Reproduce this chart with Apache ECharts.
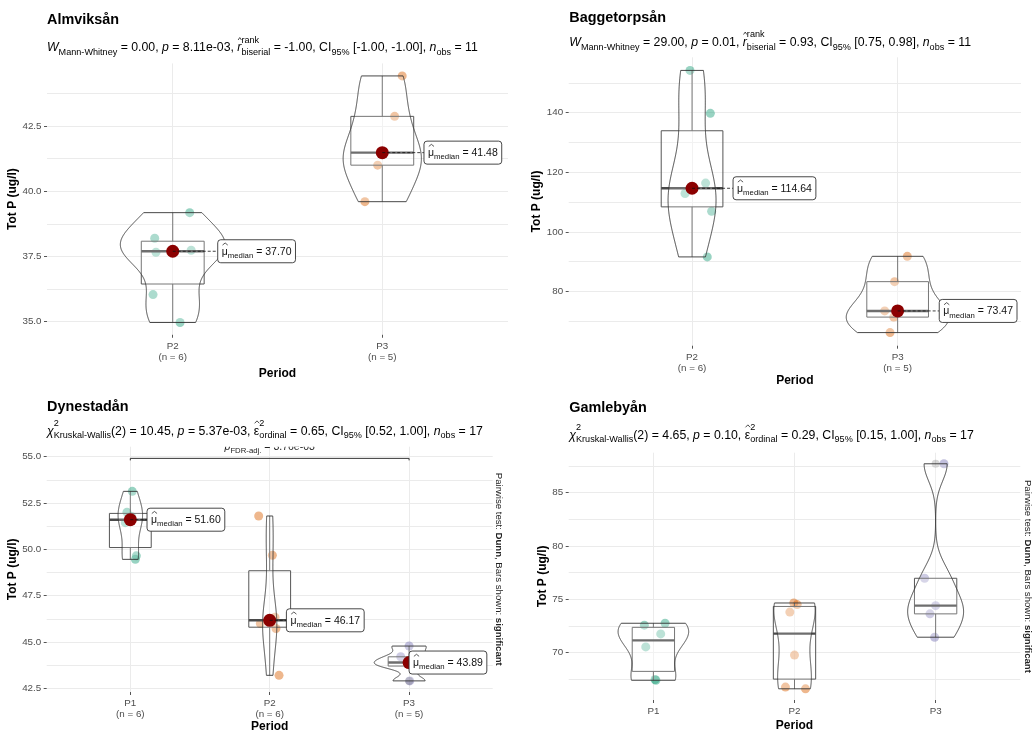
<!DOCTYPE html>
<html>
<head>
<meta charset="utf-8">
<script src="https://cdn.jsdelivr.net/npm/echarts@6/dist/echarts.min.js"></script>
<style>
  html, body { margin: 0; background: #fff; }
  #chart { width: 1034px; height: 735px; }
</style>
</head>
<body>
<div id="chart"></div>
<script>
var FONT = '"Liberation Sans", Arial, sans-serif';
var PALETTE = ['#1B9E77', '#D95F02', '#7570B3'];

// Almviksån
var almCats = ['P2', 'P3'];
var almP2 = [39.18, 38.20, 37.66, 37.74, 36.04, 34.97];
var almP3 = [44.42, 42.87, 41.00, 39.60, 41.48];
var almJitter = [[0.081, -0.086, -0.080, 0.088, -0.094, 0.035], [0.095, 0.059, -0.022, -0.083, 0.0]];
var almTicks = [35, 37.5, 40, 42.5];
var almMinor = [36.25, 38.75, 41.25, 43.75];

// Baggetorpsån
var bagCats = ['P2', 'P3'];
var bagP2 = [154.2, 139.8, 116.38, 112.9, 106.9, 91.6];
var bagP3 = [91.8, 83.3, 73.47, 71.4, 66.2];
var bagJitter = [[-0.01, 0.089, 0.066, -0.034, 0.095, 0.074], [0.047, -0.015, -0.063, -0.019, -0.037]];
var bagTicks = [80, 100, 120, 140];
var bagMinor = [70, 90, 110, 130, 150];

// Dynestadån
var dynCats = ['P1', 'P2', 'P3'];
var dynP1 = [53.13, 52.00, 51.44, 51.76, 49.65, 49.46];
var dynP2 = [51.80, 49.68, 46.34, 46.00, 45.73, 43.20];
var dynP3 = [44.78, 44.20, 43.89, 43.70, 42.90];
var dynJitter = [[0.014, -0.024, -0.036, 0.01, 0.043, 0.036], [-0.079, 0.019, 0.038, -0.067, 0.045, 0.067], [0.0, -0.06, 0.0, 0.02, 0.005]];
var dynTicks = [42.5, 45, 47.5, 50, 52.5, 55];
var dynMinor = [43.75, 46.25, 48.75, 51.25, 53.75];
var dynSigPair = [1, 3];
var dynSigY = 54.91;
var dynSigP = '3.76e-03';

// Gamlebyån
var gamCats = ['P1', 'P2', 'P3'];
var gamP1 = [72.57, 72.75, 71.75, 70.53, 67.47, 67.40];
var gamP2 = [74.65, 74.50, 73.80, 69.76, 66.76, 66.60];
var gamP3 = [87.71, 76.97, 74.40, 73.63, 71.44];
var gamJitter = [[-0.064, 0.083, 0.052, -0.054, 0.012, 0.018], [-0.005, 0.019, -0.033, 0.0, -0.064, 0.078], [0.059, -0.078, 0.0, -0.04, -0.007]];
var gamTicks = [70, 75, 80, 85];
var gamMinor = [67.5, 72.5, 77.5, 82.5, 87.5];

function mwSub(w, p, r, ci, n) {
  return [{t: 'W', it: 1}, {sub: 'Mann-Whitney'}, {t: ' = ' + w + ', '}, {t: 'p', it: 1}, {t: ' = ' + p + ', '},
    {t: 'r', it: 1, hat: 1}, {sup: 'rank', sub: 'biserial'}, {t: ' = ' + r + ', CI'}, {sub: '95%'},
    {t: ' ' + ci + ', '}, {t: 'n', it: 1}, {sub: 'obs'}, {t: ' = ' + n}];
}
function kwSub(chi, p, e, ci, n) {
  return [{t: 'χ', it: 1}, {sup: '2', sub: 'Kruskal-Wallis'}, {t: '(2) = ' + chi + ', '}, {t: 'p', it: 1}, {t: ' = ' + p + ', '},
    {t: 'ε', hat: 1}, {sup: '2', sub: 'ordinal'}, {t: ' = ' + e + ', CI'}, {sub: '95%'},
    {t: ' ' + ci + ', '}, {t: 'n', it: 1}, {sub: 'obs'}, {t: ' = ' + n}];
}

var panels = [
  {name: 'Almviksån', cats: almCats, groups: [almP2, almP3], jitter: almJitter, ticks: almTicks, minor: almMinor, dec: 1,
   sub: mwSub('0.00', '8.11e-03', '-1.00', '[-1.00, -1.00]', 11), showN: true, showMedian: true,
   rect: [47, 63.4, 461, 271.35], yRange: [34.5, 44.9], titleBase: 24, subBase: 51.7, labelDx: [45, 41.7], xGap: 33, yGap: 25},
  {name: 'Baggetorpsån', cats: bagCats, groups: [bagP2, bagP3], jitter: bagJitter, ticks: bagTicks, minor: bagMinor, dec: 0,
   sub: mwSub('29.00', '0.01', '0.93', '[0.75, 0.98]', 11), showN: true, showMedian: true,
   rect: [568.7, 57.3, 452.3, 288.4], yRange: [61.8, 158.6], titleBase: 22, subBase: 46.2, labelDx: [41, 41.6], xGap: 27, yGap: 21},
  {name: 'Dynestadån', cats: dynCats, groups: [dynP1, dynP2, dynP3], jitter: dynJitter, ticks: dynTicks, minor: dynMinor, dec: 1,
   sub: kwSub('10.45', '5.37e-03', '0.65', '[0.52, 1.00]', 17), showN: true, showMedian: true, caption: [499, 569.3],
   sig: true, rect: [46.7, 446.7, 446, 245.3], yRange: [42.3, 55.54], titleBase: 411, subBase: 435, labelDx: [16.7, 16.7, 0], xGap: 29, yGap: 25},
  {name: 'Gamlebyån', cats: gamCats, groups: [gamP1, gamP2, gamP3], jitter: gamJitter, ticks: gamTicks, minor: gamMinor, dec: 0,
   sub: kwSub('4.65', '0.10', '0.29', '[0.15, 1.00]', 17), showN: false, showMedian: false, caption: [1028.5, 576.4],
   rect: [568.7, 452.7, 451.6, 247.3], yRange: [65.55, 88.75], titleBase: 412.7, subBase: 439, xGap: 20, yGap: 20}
];

// ---- stats helpers (same rules ggplot uses: type-7 quantiles, 1.5 IQR, nrd0 gaussian kde)
function quantile(s, p) {
  var h = (s.length - 1) * p, lo = Math.floor(h);
  var hi = Math.min(lo + 1, s.length - 1);
  return s[lo] + (h - lo) * (s[hi] - s[lo]);
}
function boxStats(vals) {
  var s = vals.slice().sort(function (a, b) { return a - b; });
  var q1 = quantile(s, 0.25), med = quantile(s, 0.5), q3 = quantile(s, 0.75), iqr = q3 - q1;
  var inside = s.filter(function (v) { return v >= q1 - 1.5 * iqr && v <= q3 + 1.5 * iqr; });
  var out = s.filter(function (v) { return v < q1 - 1.5 * iqr || v > q3 + 1.5 * iqr; });
  return {q1: q1, med: med, q3: q3, lw: inside[0], hw: inside[inside.length - 1], out: out};
}
function kde(vals, m) {
  var s = vals.slice().sort(function (a, b) { return a - b; }), n = s.length;
  var mean = s.reduce(function (a, b) { return a + b; }, 0) / n;
  var sd = Math.sqrt(s.reduce(function (a, b) { return a + (b - mean) * (b - mean); }, 0) / (n - 1));
  var lo = Math.min(sd, (quantile(s, 0.75) - quantile(s, 0.25)) / 1.34) || sd || 1;
  var bw = 0.9 * lo * Math.pow(n, -0.2);
  var out = [];
  for (var i = 0; i < m; i++) {
    var y = s[0] + (s[n - 1] - s[0]) * i / (m - 1), d = 0;
    for (var j = 0; j < n; j++) { var z = (y - s[j]) / bw; d += Math.exp(-0.5 * z * z); }
    out.push([y, d / (n * bw * Math.sqrt(2 * Math.PI))]);
  }
  return out;
}

// ---- text with sub/superscripts
var mctx = document.createElement('canvas').getContext('2d');
function fontStr(size, bold, italic) {
  return (italic ? 'italic ' : '') + (bold ? 'bold ' : '') + size + 'px ' + FONT;
}
function textW(str, size, bold, italic) {
  mctx.font = fontStr(size, bold, italic);
  return mctx.measureText(str).width;
}
function textEl(str, x, base, size, bold, italic, color) {
  return {type: 'text', x: x, y: base - 0.31 * size, silent: true,
    style: {text: str, font: fontStr(size, bold, italic), fill: color || '#000',
      textAlign: 'left', textVerticalAlign: 'middle', align: 'left', verticalAlign: 'middle'}};
}
function mathEls(segs, x0, base, size, color) {
  var small = size * 0.74, els = [], x = x0;
  segs.forEach(function (s) {
    if (s.t) {
      var w = textW(s.t, size, s.b, s.it);
      els.push(textEl(s.t, x, base, size, s.b, s.it, color));
      if (s.hat) {
        els.push({type: 'polyline', silent: true,
          shape: {points: [[x + 0.8, base - 0.95 * size], [x + w / 2 + 0.4, base - 1.15 * size], [x + w, base - 0.95 * size]]},
          style: {stroke: color || '#000', fill: null, lineWidth: 0.7}});
      }
      x += w;
    }
    if (s.sub != null || s.sup != null) {
      var w1 = 0, w2 = 0;
      if (s.sup != null) { w1 = textW(s.sup, small); els.push(textEl(s.sup, x, base - 0.72 * size, small, 0, 0, color)); }
      if (s.sub != null) { w2 = textW(s.sub, small); els.push(textEl(s.sub, x, base + 0.3 * size, small, 0, 0, color)); }
      x += Math.max(w1, w2);
    }
  });
  return {els: els, width: x - x0};
}

var option = {animation: false, backgroundColor: '#fff', grid: [], xAxis: [], yAxis: [], series: [], graphic: []};
var GRID = '#EBEBEB', LAB = '#4D4D4D';

panels.forEach(function (p, i) {
  var pos = p.cats.map(function (c, k) { return k + 1; });
  var stats = p.groups.map(boxStats);
  var dens = p.groups.map(function (g) { return kde(g, 256); });
  var maxD = 0;
  dens.forEach(function (d) { d.forEach(function (q) { maxD = Math.max(maxD, q[1]); }); });
  var yA = 2 * i;

  option.grid.push({left: p.rect[0], top: p.rect[1], width: p.rect[2], height: p.rect[3], outerBoundsMode: 'none', containLabel: false});

  option.xAxis.push({
    type: 'value', gridIndex: i, min: 0.4, max: p.cats.length + 0.6,
    name: 'Period', nameLocation: 'middle', nameGap: p.xGap,
    nameTextStyle: {fontFamily: FONT, fontSize: 12, fontWeight: 'bold', color: '#000'},
    axisLine: {show: false},
    axisTick: {show: true, customValues: pos, length: 3, lineStyle: {color: '#555', width: 1}},
    axisLabel: {customValues: pos, margin: 6, fontFamily: FONT, fontSize: 9.8, color: LAB, lineHeight: 11,
      formatter: function (v) {
        var k = Math.round(v) - 1;
        return p.showN ? p.cats[k] + '\n(n = ' + p.groups[k].length + ')' : p.cats[k];
      }},
    splitLine: {show: true, lineStyle: {color: GRID, width: 1}}
  });

  var all = p.ticks.concat(p.minor).sort(function (a, b) { return a - b; });
  option.yAxis.push({
    type: 'value', gridIndex: i, min: p.yRange[0], max: p.yRange[1],
    name: 'Tot P (ug/l)', nameLocation: 'middle', nameGap: p.yGap, nameRotate: 90,
    nameTextStyle: {fontFamily: FONT, fontSize: 12, fontWeight: 'bold', color: '#000'},
    axisLine: {show: false},
    axisTick: {show: false, customValues: all},
    axisLabel: {customValues: p.ticks, margin: 5.5, fontFamily: FONT, fontSize: 9.8, color: LAB,
      formatter: function (v) { return v.toFixed(p.dec); }},
    splitLine: {show: true, lineStyle: {color: GRID, width: 1}}
  }, {
    type: 'value', gridIndex: i, min: p.yRange[0], max: p.yRange[1], position: 'left', offset: 0,
    axisLine: {show: false}, axisLabel: {show: false}, splitLine: {show: false},
    axisTick: {show: true, customValues: p.ticks, length: 3, lineStyle: {color: '#555', width: 1}}
  });

  // jittered raw points
  p.groups.forEach(function (g, k) {
    option.series.push({
      type: 'scatter', xAxisIndex: i, yAxisIndex: yA, z: 2, silent: true,
      symbolSize: 9, itemStyle: {color: PALETTE[k], opacity: 0.45},
      data: g.map(function (v, j) { return [k + 1 + p.jitter[k][j], v]; })
    });
  });

  // boxplot outliers
  var outs = [];
  stats.forEach(function (s, k) { s.out.forEach(function (v) { outs.push([k + 1, v]); }); });
  if (outs.length) {
    option.series.push({type: 'scatter', xAxisIndex: i, yAxisIndex: yA, z: 2, silent: true,
      symbolSize: 8, itemStyle: {color: '#333', opacity: 0.2}, data: outs});
  }

  // boxes
  option.series.push({
    type: 'custom', xAxisIndex: i, yAxisIndex: yA, z: 3, silent: true,
    data: stats.map(function (s, k) { return [k + 1, s.lw, s.q1, s.med, s.q3, s.hw]; }),
    renderItem: function (params, api) {
      var g = api.value(0);
      var tl = api.coord([g - 0.15, api.value(4)]), br = api.coord([g + 0.15, api.value(2)]);
      var m1 = api.coord([g - 0.15, api.value(3)]), m2 = api.coord([g + 0.15, api.value(3)]);
      var lw = api.coord([g, api.value(1)]), q1 = api.coord([g, api.value(2)]);
      var q3 = api.coord([g, api.value(4)]), hw = api.coord([g, api.value(5)]);
      var st = {stroke: '#555', lineWidth: 1, fill: null};
      return {type: 'group', children: [
        {type: 'line', shape: {x1: lw[0], y1: lw[1], x2: q1[0], y2: q1[1]}, style: st},
        {type: 'line', shape: {x1: q3[0], y1: q3[1], x2: hw[0], y2: hw[1]}, style: st},
        {type: 'rect', shape: {x: tl[0], y: tl[1], width: br[0] - tl[0], height: br[1] - tl[1]},
          style: {fill: 'rgba(255,255,255,0.2)', stroke: '#555', lineWidth: 1}},
        {type: 'line', shape: {x1: m1[0], y1: m1[1], x2: m2[0], y2: m2[1]}, style: {stroke: '#4a4a4a', lineWidth: 2.4}}
      ]};
    }
  });

  // violins
  option.series.push({
    type: 'custom', xAxisIndex: i, yAxisIndex: yA, z: 4, silent: true,
    data: pos.map(function (g) { return [g]; }),
    renderItem: function (params, api) {
      var g = api.value(0), right = [], left = [];
      dens[params.dataIndex].forEach(function (q) {
        var w = 0.25 * q[1] / maxD;
        right.push(api.coord([g + w, q[0]]));
        left.unshift(api.coord([g - w, q[0]]));
      });
      return {type: 'polygon', shape: {points: right.concat(left)},
        style: {fill: 'rgba(255,255,255,0.2)', stroke: '#333', lineWidth: 0.9}};
    }
  });

  if (p.showMedian) {
    var meds = stats.map(function (s, k) { return [k + 1, s.med]; });
    option.series.push({type: 'scatter', xAxisIndex: i, yAxisIndex: yA, z: 5, silent: true,
      symbolSize: 13, itemStyle: {color: '#8B0000', opacity: 1}, data: meds});
    option.series.push({
      type: 'custom', xAxisIndex: i, yAxisIndex: yA, z: 6, silent: true, data: meds,
      renderItem: function (params, api) {
        var c = api.coord([api.value(0), api.value(1)]);
        var x0 = c[0] + p.labelDx[params.dataIndex], fs = 10.5, pad = 4;
        var m = mathEls([{t: 'μ', hat: 1}, {sub: 'median'}, {t: ' = ' + api.value(1).toFixed(2)}], x0 + pad, c[1] + 3.8, fs, '#111');
        var kids = [
          {type: 'line', shape: {x1: c[0], y1: c[1], x2: x0, y2: c[1]}, style: {stroke: '#111', lineWidth: 0.8, lineDash: [3, 2]}},
          {type: 'rect', shape: {x: x0, y: c[1] - 11.5, width: m.width + 2 * pad, height: 23, r: 3},
            style: {fill: '#fff', stroke: '#333', lineWidth: 0.9}}
        ];
        return {type: 'group', children: kids.concat(m.els)};
      }
    });
  }

  if (p.sig) {
    option.series.push({
      type: 'custom', xAxisIndex: i, yAxisIndex: yA, z: 6, silent: true, clip: true,
      encode: {x: [0, 1], y: 2},
      data: [[dynSigPair[0], dynSigPair[1], dynSigY]],
      renderItem: function (params, api) {
        var l = api.coord([api.value(0), api.value(2)]), r = api.coord([api.value(1), api.value(2)]);
        var segs = [{t: 'p', it: 1}, {sub: 'FDR-adj.'}, {t: ' = ' + dynSigP}];
        var w = mathEls(segs, 0, 0, 10.5).width;
        var m = mathEls(segs, (l[0] + r[0]) / 2 - w / 2, l[1] - 8, 10.5, '#222');
        return {type: 'group', children: [
          {type: 'polyline', shape: {points: [[l[0], l[1] + 2], [l[0], l[1]], [r[0], r[1]], [r[0], r[1] + 2]]},
            style: {stroke: '#333', lineWidth: 1, fill: null}}
        ].concat(m.els)};
      }
    });
  }

  // titles, subtitles, side caption
  option.graphic.push(textEl(p.name, p.rect[0] < 100 ? 47 : 569.3, p.titleBase, 14.4, true, false, '#000'));
  mathEls(p.sub, p.rect[0] < 100 ? 47 : 569.3, p.subBase, 12.3, '#000').els.forEach(function (e) { option.graphic.push(e); });
  if (p.caption) {
    var segs = [{t: 'Pairwise test: '}, {t: 'Dunn', b: 1}, {t: ', Bars shown: '}, {t: 'significant', b: 1}];
    var cw = mathEls(segs, 0, 0, 9.6).width;
    option.graphic.push({type: 'group', x: p.caption[0], y: p.caption[1], rotation: -Math.PI / 2, silent: true,
      children: mathEls(segs, -cw / 2, 3.4, 9.6, '#222').els});
  }
});

var chart = echarts.init(document.getElementById('chart'), null, {renderer: 'canvas'});
chart.setOption(option);
</script>
</body>
</html>
